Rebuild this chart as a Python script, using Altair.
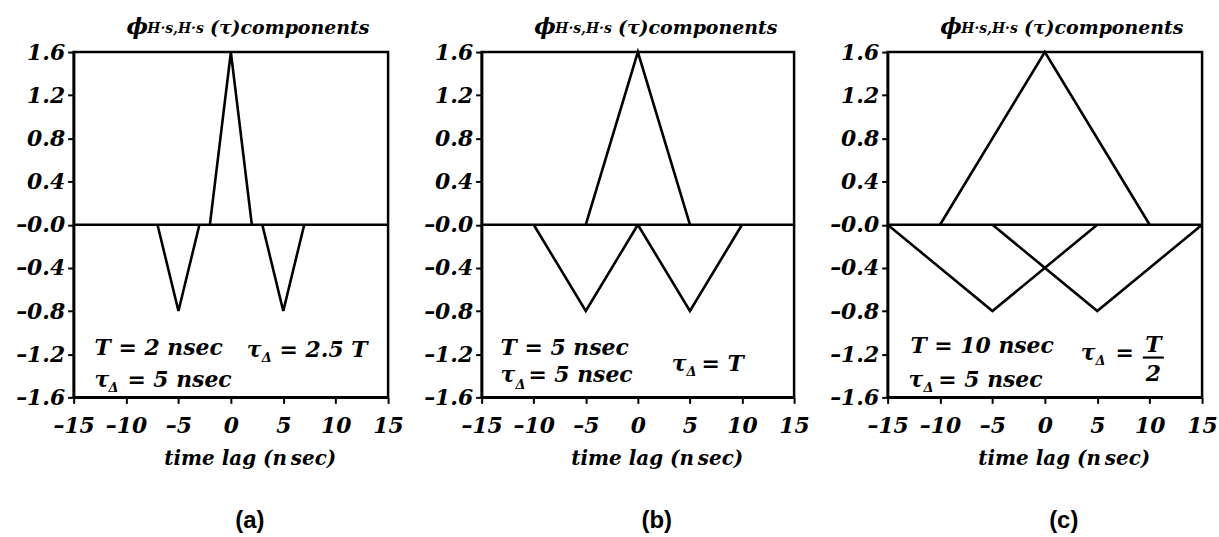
import altair as alt
import pandas as pd

# ---------------- data ----------------
x_ticks = [-15, -10, -5, 0, 5, 10, 15]
y_ticks = [-1.6, -1.2, -0.8, -0.4, 0.0, 0.4, 0.8, 1.2, 1.6]

# zero baseline drawn across every panel
zero_x = [-15, 15]
zero_y = [0.0, 0.0]

# (a) T = 2 nsec, tau_delta = 5 nsec
a_main_x = [-2, 0, 2]
a_main_y = [0.0, 1.6, 0.0]
a_left_x = [-7, -5, -3]
a_left_y = [0.0, -0.8, 0.0]
a_right_x = [3, 5, 7]
a_right_y = [0.0, -0.8, 0.0]

# (b) T = 5 nsec, tau_delta = 5 nsec
b_main_x = [-5, 0, 5]
b_main_y = [0.0, 1.6, 0.0]
b_left_x = [-10, -5, 0]
b_left_y = [0.0, -0.8, 0.0]
b_right_x = [0, 5, 10]
b_right_y = [0.0, -0.8, 0.0]

# (c) T = 10 nsec, tau_delta = 5 nsec
c_main_x = [-10, 0, 10]
c_main_y = [0.0, 1.6, 0.0]
c_left_x = [-15, -5, 5]
c_left_y = [0.0, -0.8, 0.0]
c_right_x = [-5, 5, 15]
c_right_y = [0.0, -0.8, 0.0]

# annotation text (text, x, baseline y) in data units
a_notes = [("T = 2 nsec", -13.0, -1.205), ("\u03c4", -13.0, -1.508),
           ("= 5 nsec", -9.87, -1.508), ("\u03c4", 1.52, -1.222),
           ("= 2.5 T", 4.65, -1.222)]
a_subs = [("\u0394", -11.67, -1.554), ("\u0394", 2.94, -1.268)]

b_notes = [("T = 5 nsec", -13.18, -1.205), ("\u03c4", -13.18, -1.462),
           ("= 5 nsec", -10.51, -1.462), ("\u03c4", 3.25, -1.360),
           ("= T", 6.11, -1.360)]
b_subs = [("\u0394", -11.75, -1.527), ("\u0394", 4.68, -1.406)]

c_notes = [("T = 10 nsec", -12.82, -1.185), ("\u03c4", -13.0, -1.508),
           ("= 5 nsec", -10.16, -1.508), ("\u03c4", 3.42, -1.25),
           ("=", 6.74, -1.25)]
c_subs = [("\u0394", -11.58, -1.554), ("\u0394", 4.84, -1.296)]
# T over 2
c_frac = [("T", 10.35, -1.176), ("2", 10.35, -1.452)]
c_bar_x = [9.35, 11.35]
c_bar_y = [-1.231]

panel_letters = ["(a)", "(b)", "(c)"]
axis_title = "time lag (n\u2009sec)"

SERIF = "DejaVu Serif"
INK = "black"


def lines_frame(parts):
    rows = []
    for name, xs, ys in parts:
        for x, y in zip(xs, ys):
            rows.append({"seg": name, "x": x, "y": y})
    return pd.DataFrame(rows)


def notes_frame(items):
    return pd.DataFrame([{"t": t, "x": x, "y": y} for t, x, y in items])


x_label = "datum.value < 0 ? '\u2013' + format(-datum.value, 'd') : format(datum.value, 'd')"
y_label = "datum.value <= 0 ? '\u2013' + format(abs(datum.value), '.1f') : format(datum.value, '.1f')"


def panel(parts, notes, subs, letter, width, frac=None, bar=None):
    xs = alt.Scale(domain=[-15, 15], nice=False, zero=False)
    ys = alt.Scale(domain=[-1.6, 1.6], nice=False, zero=False)
    lines = alt.Chart(lines_frame(parts)).mark_line(
        color=INK, strokeWidth=2.6, strokeJoin="miter"
    ).encode(
        x=alt.X("x:Q", scale=xs, axis=alt.Axis(
            values=x_ticks, labelExpr=x_label, title=axis_title,
            titleX=width / 2 + 19, titleY=67, titleBaseline="alphabetic")),
        y=alt.Y("y:Q", scale=ys, axis=alt.Axis(values=y_ticks, labelExpr=y_label, title=None)),
        detail="seg:N",
    )
    txt = alt.Chart(notes_frame(notes)).mark_text(
        font=SERIF, fontStyle="italic", fontWeight="bold", fontSize=22,
        align="left", baseline="alphabetic", color=INK
    ).encode(x="x:Q", y="y:Q", text="t:N")
    sub = alt.Chart(notes_frame(subs)).mark_text(
        font=SERIF, fontStyle="italic", fontWeight="bold", fontSize=13,
        align="left", baseline="alphabetic", color=INK
    ).encode(x="x:Q", y="y:Q", text="t:N")

    title_df = pd.DataFrame({"k": [0]})
    t_phi = alt.Chart(title_df).mark_text(
        text="\u03d5", font=SERIF, fontStyle="italic", fontWeight="bold", fontSize=23,
        align="left", baseline="alphabetic", color=INK
    ).encode(x=alt.value(53), y=alt.value(-18))
    t_sub = alt.Chart(title_df).mark_text(
        text="H\u00b7s,H\u00b7s", font=SERIF, fontStyle="italic", fontWeight="bold", fontSize=14,
        align="left", baseline="alphabetic", color=INK
    ).encode(x=alt.value(74), y=alt.value(-19))
    t_main = alt.Chart(title_df).mark_text(
        text="(\u03c4)components", font=SERIF, fontStyle="italic", fontWeight="bold", fontSize=19,
        align="left", baseline="alphabetic", color=INK
    ).encode(x=alt.value(137), y=alt.value(-18))
    t_letter = alt.Chart(title_df).mark_text(
        text=letter, font="Liberation Sans", fontWeight="bold", fontSize=24,
        align="center", baseline="middle", color=INK
    ).encode(x=alt.value(width / 2 + 19), y=alt.value(471))

    layers = [lines, txt, sub, t_phi, t_sub, t_main, t_letter]
    if frac is not None:
        layers.append(alt.Chart(notes_frame(frac)).mark_text(
            font=SERIF, fontStyle="italic", fontWeight="bold", fontSize=22,
            align="center", baseline="alphabetic", color=INK
        ).encode(x="x:Q", y="y:Q", text="t:N"))
    if bar is not None:
        bx, by = bar
        layers.append(alt.Chart(pd.DataFrame({"x": [bx[0]], "x2": [bx[1]], "y": by})).mark_rule(
            color=INK, strokeWidth=2.2
        ).encode(x="x:Q", x2="x2:Q", y="y:Q"))
    return alt.layer(*layers).properties(width=width, height=347)


pa = panel([("zero", zero_x, zero_y), ("main", a_main_x, a_main_y),
            ("left", a_left_x, a_left_y), ("right", a_right_x, a_right_y)],
           a_notes, a_subs, panel_letters[0], 316)
pb = panel([("zero", zero_x, zero_y), ("main", b_main_x, b_main_y),
            ("left", b_left_x, b_left_y), ("right", b_right_x, b_right_y)],
           b_notes, b_subs, panel_letters[1], 314)
pc = panel([("zero", zero_x, zero_y), ("main", c_main_x, c_main_y),
            ("left", c_left_x, c_left_y), ("right", c_right_x, c_right_y)],
           c_notes, c_subs, panel_letters[2], 316, frac=c_frac, bar=(c_bar_x, c_bar_y))

chart = alt.hconcat(pa, pb, pc, spacing=94, bounds="flush").properties(
    padding={"left": 14, "top": 13, "right": 0, "bottom": 0},
    background="white",
).configure_axis(
    domainColor=INK, domainWidth=2.5, tickColor=INK, tickWidth=2, tickSize=6,
    labelFont=SERIF, labelFontSize=22, labelFontStyle="italic", labelFontWeight="bold",
    labelColor=INK, titleFont=SERIF, titleFontSize=20, titleFontStyle="italic",
    titleFontWeight="bold", titleColor=INK, grid=False, labelFlush=False, labelOverlap=False,
).configure_axisX(labelPadding=12).configure_axisY(labelPadding=3).configure_view(
    stroke=INK, strokeWidth=2.5
)

chart.save("out.html", embed_options={"renderer": "svg", "actions": False})
